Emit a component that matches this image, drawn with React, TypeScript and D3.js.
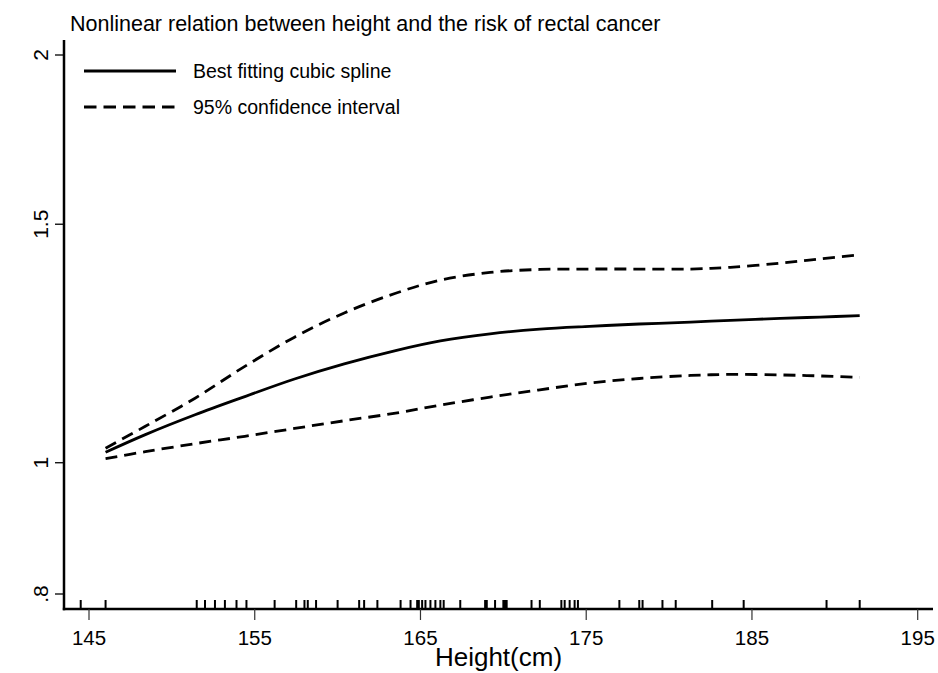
import React, { useEffect, useRef } from "react";
import * as d3 from "d3";

// heights (cm) where the curves were read
const heights = [146, 148.4, 151.4, 154.4, 157.4, 160.4, 163.5, 166.2, 169.2, 172.2, 175.2, 178.2, 181.3, 183.7, 186.7, 189.1, 191.5];
const fitted = [1.018, 1.049, 1.085, 1.119, 1.153, 1.183, 1.210, 1.230, 1.245, 1.255, 1.261, 1.266, 1.270, 1.274, 1.278, 1.281, 1.284];
const upperCI = [1.025, 1.064, 1.116, 1.178, 1.238, 1.290, 1.334, 1.364, 1.382, 1.389, 1.390, 1.390, 1.390, 1.394, 1.404, 1.414, 1.424];
const lowerCI = [1.007, 1.019, 1.033, 1.046, 1.060, 1.074, 1.088, 1.103, 1.118, 1.132, 1.145, 1.154, 1.160, 1.162, 1.161, 1.159, 1.156];

// observed heights shown as rug marks
const rug = [144.5, 146, 151.5, 152, 152.6, 153.2, 153.9, 154.5, 156.2, 157.5, 158, 158.2, 158.7, 160, 161.3, 161.6, 162.4,
  163.8, 164.4, 164.8, 164.9, 165.1, 165.3, 165.6, 165.9, 166.2, 166.4, 167.4, 168.9, 169, 169.5, 170, 170.1, 170.2,
  171.7, 172.2, 173.5, 173.7, 174, 174.3, 174.5, 177, 178.2, 178.4, 179.6, 180.4, 182.6, 184.5, 189.5, 191.5];

const xTicks = [145, 155, 165, 175, 185, 195];
const yTicks = [0.8, 1, 1.5, 2];
const yTickLabels = [".8", "1", "1.5", "2"];

const title = "Nonlinear relation between height and the risk of rectal cancer";
const xTitle = "Height(cm)";
const legendLabels = ["Best fitting cubic spline", "95% confidence interval"];

const W = 938, H = 673;
const FONT = "'Liberation Sans', Arial, Helvetica, sans-serif";

export default function App() {
  const ref = useRef<SVGSVGElement>(null);

  useEffect(() => {
    const svg = d3.select(ref.current);
    svg.selectAll("*").remove();

    const x = d3.scaleLinear().domain([145, 195]).range([89, 917.7]);
    const y = d3.scaleLog().domain([0.8, 2]).range([594, 55]);
    const axisLeft = 64, axisBottom = 609;

    svg.append("rect").attr("width", W).attr("height", H).attr("fill", "white");

    // title
    svg.append("text").attr("x", 70).attr("y", 31)
      .style("font-family", FONT).style("font-size", "21.5px").text(title);

    // axes lines
    svg.append("line").attr("x1", axisLeft).attr("x2", axisLeft).attr("y1", 40).attr("y2", axisBottom + 1.2)
      .attr("stroke", "black").attr("stroke-width", 2.5);
    svg.append("line").attr("x1", axisLeft - 1.2).attr("x2", 933).attr("y1", axisBottom).attr("y2", axisBottom)
      .attr("stroke", "black").attr("stroke-width", 2.5);

    // y ticks
    const yt = svg.append("g");
    yTicks.forEach((t, i) => {
      yt.append("line").attr("x1", axisLeft - 9).attr("x2", axisLeft).attr("y1", y(t)).attr("y2", y(t))
        .attr("stroke", "black").attr("stroke-width", 1.3);
      yt.append("text").attr("transform", `translate(48,${y(t)}) rotate(-90)`)
        .attr("text-anchor", "middle").style("font-family", FONT).style("font-size", "21px")
        .text(yTickLabels[i]);
    });

    // x ticks
    const xt = svg.append("g");
    xTicks.forEach(t => {
      xt.append("line").attr("x1", x(t)).attr("x2", x(t)).attr("y1", axisBottom).attr("y2", 620)
        .attr("stroke", "#333").attr("stroke-width", 1.2);
      xt.append("text").attr("x", x(t)).attr("y", 645).attr("text-anchor", "middle")
        .style("font-family", FONT).style("font-size", "20.5px").text(String(t));
    });
    svg.append("text").attr("x", (axisLeft + 933) / 2).attr("y", 666).attr("text-anchor", "middle")
      .style("font-family", FONT).style("font-size", "26px").text(xTitle);

    // rug
    svg.append("g").selectAll("line").data(rug).enter().append("line")
      .attr("x1", d => x(d)).attr("x2", d => x(d)).attr("y1", 600).attr("y2", axisBottom)
      .attr("stroke", "black").attr("stroke-width", 2);

    // curves
    const line = d3.line<number>()
      .x((_, i) => x(heights[i]))
      .y(d => y(d))
      .curve(d3.curveCatmullRom.alpha(0.5));

    [upperCI, lowerCI].forEach(s => {
      svg.append("path").attr("d", line(s)).attr("fill", "none").attr("stroke", "black")
        .attr("stroke-width", 2.8).attr("stroke-dasharray", "12,7");
    });
    svg.append("path").attr("d", line(fitted)).attr("fill", "none").attr("stroke", "black")
      .attr("stroke-width", 2.8);

    // legend
    const lg = svg.append("g");
    [71, 107].forEach((ly, i) => {
      lg.append("line").attr("x1", 84).attr("x2", 176).attr("y1", ly).attr("y2", ly)
        .attr("stroke", "black").attr("stroke-width", 2.8)
        .attr("stroke-dasharray", i === 1 ? "12.5,7" : null);
      lg.append("text").attr("x", 193).attr("y", ly + 7)
        .style("font-family", FONT).style("font-size", "19.5px").text(legendLabels[i]);
    });
  }, []);

  return <svg ref={ref} width={W} height={H} style={{ position: "absolute", left: 0, top: 0 }} />;
}
